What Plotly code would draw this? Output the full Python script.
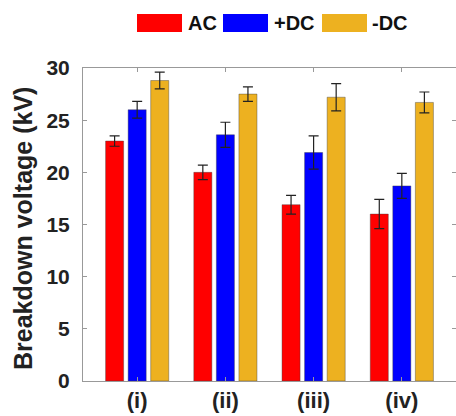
import plotly.graph_objects as go

categories = ["(i)", "(ii)", "(iii)", "(iv)"]
series_names = ["AC", "+DC", "-DC"]
ac_values = [23.0, 20.0, 16.9, 16.0]
ac_err = [0.5, 0.7, 0.9, 1.4]
pdc_values = [26.0, 23.6, 21.9, 18.7]
pdc_err = [0.8, 1.2, 1.6, 1.2]
ndc_values = [28.8, 27.5, 27.2, 26.7]
ndc_err = [0.8, 0.7, 1.3, 1.0]
colors = ["#FF0000", "#0000FF", "#EDB120"]
y_ticks = [0, 5, 10, 15, 20, 25, 30]

W, H = 456, 416
ML, MR, MT, MB = 83, 0, 68, 35
PW, PH = W - ML - MR, H - MT - MB

def px_x(p):
    return (p - ML) / PW

def px_y(p):
    return (H - MB - p) / PH

fig = go.Figure()
for name, vals, errs, col in zip(series_names, [ac_values, pdc_values, ndc_values],
                                 [ac_err, pdc_err, ndc_err], colors):
    fig.add_trace(go.Bar(
        x=categories, y=vals, name=name,
        marker=dict(color=col, line=dict(color="rgba(60,60,60,0.5)", width=0.8)),
        error_y=dict(type="data", array=errs, visible=True, color="#222222",
                     thickness=1.2, width=5),
        showlegend=False,
    ))

font_fam = "Liberation Sans, Arial, sans-serif"

# custom legend with large swatches
legend_swatch_x = [137, 223, 322]
legend_text_x = [186, 272, 370]
sw_w = 45
for name, col, sx, tx in zip(series_names, colors, legend_swatch_x, legend_text_x):
    fig.add_shape(type="rect", xref="paper", yref="paper",
                  x0=px_x(sx), x1=px_x(sx + sw_w), y0=px_y(32), y1=px_y(14),
                  fillcolor=col, line=dict(width=0))
    fig.add_annotation(x=px_x(tx), y=px_y(23), xref="paper", yref="paper",
                       text="<b>" + name + "</b>", showarrow=False,
                       xanchor="left", yanchor="middle",
                       font=dict(family=font_fam, size=20, color="#111111"))

fig.add_annotation(x=px_x(23), y=px_y(229), xref="paper", yref="paper",
                   text="<b>Breakdown voltage (kV)</b>", showarrow=False,
                   textangle=-90, xanchor="center", yanchor="middle",
                   font=dict(family=font_fam, size=25, color="#222222"))

fig.update_layout(
    width=W, height=H,
    margin=dict(l=ML, r=MR, t=MT, b=MB),
    paper_bgcolor="white", plot_bgcolor="white",
    barmode="group", bargap=0.233, bargroupgap=0.2,
    font=dict(family=font_fam, color="#222222"),
    xaxis=dict(
        range=[-0.614, 3.614], showgrid=False, showline=True,
        linecolor="#999999", linewidth=1, mirror="ticks",
        ticks="inside", ticklen=4, tickcolor="#999999",
        tickfont=dict(family=font_fam, size=22, color="#222222"),
        tickvals=categories, ticktext=["<b>" + c + "</b>" for c in categories],
    ),
    yaxis=dict(
        range=[0, 30], showgrid=False, showline=True, zeroline=False,
        linecolor="#999999", linewidth=1, mirror="ticks",
        ticks="inside", ticklen=4, tickcolor="#999999",
        tickvals=y_ticks, ticktext=["<b>%d</b>" % v for v in y_ticks],
        tickfont=dict(family=font_fam, size=21, color="#222222"),
        ticklabelstandoff=8,
    ),
)

fig.write_html("out.html")
